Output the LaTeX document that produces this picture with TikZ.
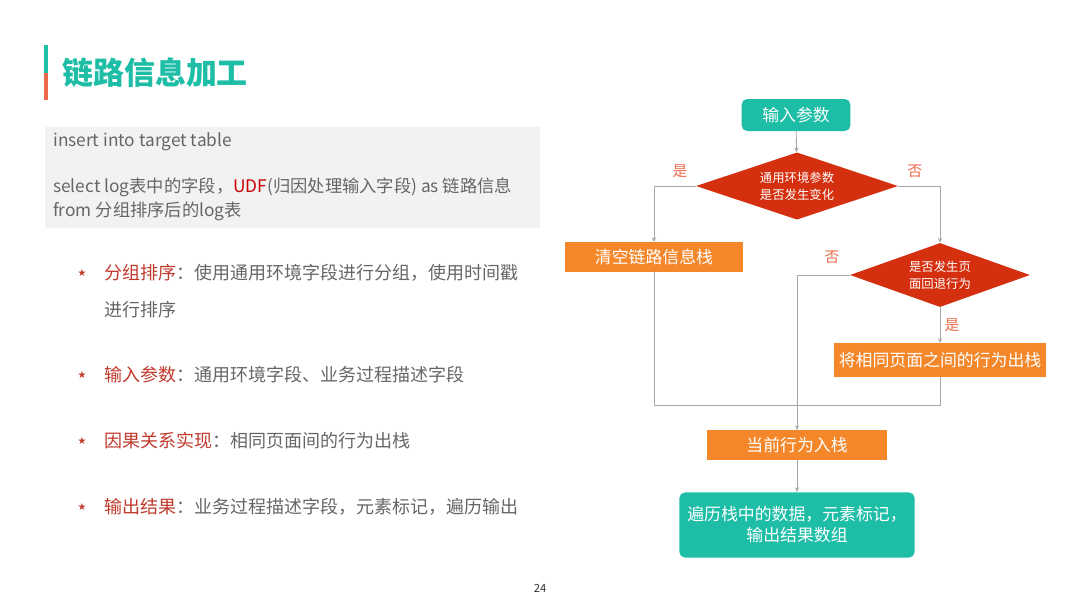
\documentclass[tikz,border=0pt]{standalone}
\usepackage{fontspec}
\setmainfont{Noto Sans CJK SC}
\newfontfamily\djv{DejaVu Sans}
\usetikzlibrary{shapes.geometric,arrows.meta}
\definecolor{teal1}{HTML}{1DBDA6}
\definecolor{orng}{HTML}{F5872B}
\definecolor{dred}{HTML}{D4300F}
\definecolor{txtgray}{HTML}{666666}
\definecolor{lbred}{HTML}{C0392B}
\definecolor{lngray}{HTML}{A8A8A8}
\definecolor{ttlred}{HTML}{EC6A4C}
\tikzset{
  tealbox/.style={draw=none,fill=teal1,rounded corners=4pt,text=white,font=\fontsize{12}{15}\selectfont,align=center,inner sep=0pt},
  orbox/.style={draw=none,fill=orng,text=white,font=\fontsize{12}{14}\selectfont,align=center,inner sep=0pt},
  dia/.style={diamond,draw=none,fill=dred,text=white,font=\fontsize{8.8}{12}\selectfont,align=center,aspect=3,inner sep=0pt},
  conn/.style={draw=lngray,line width=0.6pt},
  arr/.style={conn,-{Stealth[length=3.5pt,width=3pt]}},
  yn/.style={text=ttlred,font=\fontsize{10.5}{12}\selectfont},
  body/.style={text=txtgray,font=\fontsize{12.8}{15}\selectfont,anchor=west,inner sep=0pt},
  code/.style={text=txtgray,font=\fontsize{12.3}{14}\selectfont,anchor=west,inner sep=0pt},
  star/.style={text=lbred,font=\djv\fontsize{7}{8}\selectfont,inner sep=0pt}
}
\begin{document}
\begin{tikzpicture}[x=0.025cm,y=-0.025cm]
\useasboundingbox (0,0) rectangle (1080,608);
% title
\draw[teal1,line width=2.2pt] (46,45) -- (46,73);
\draw[ttlred,line width=2.2pt] (46,73) -- (46,100);
\node[anchor=west,inner sep=0pt,text=teal1,font=\fontsize{22}{26}\selectfont\bfseries] (title) at (62,73) {链路信息加工};
% code box
\fill[black!5] (45,127) rectangle (540,228);
\node[code] (c1) at (53,142) {insert into target table};
\node[code] (c2) at (53,187) {select log表中的字段，\textcolor{red!80!black}{UDF}(归因处理输入字段) as 链路信息};
\node[code] (c3) at (53,211) {from 分组排序后的log表};
% bullets
\node[star] (s1) at (82,273) {★};
\node[body] (b1) at (104,273) {\textcolor{lbred}{分组排序}：使用通用环境字段进行分组，使用时间戳};
\node[body] (b1b) at (104,310) {进行排序};
\node[star] (s2) at (82,375) {★};
\node[body] (b2) at (104,375) {\textcolor{lbred}{输入参数}：通用环境字段、业务过程描述字段};
\node[star] (s3) at (82,441) {★};
\node[body] (b3) at (104,441) {\textcolor{lbred}{因果关系实现}：相同页面间的行为出栈};
\node[star] (s4) at (82,507) {★};
\node[body] (b4) at (104,507) {\textcolor{lbred}{输出结果}：业务过程描述字段，元素标记，遍历输出};
\node[text=black!80,font=\fontsize{8}{10}\selectfont] (pg) at (540,588) {24};
% flowchart
\node[tealbox,minimum width=2.72cm,minimum height=0.8cm] (in) at (796,115) {输入参数};
\node[dia,minimum width=5.05cm,minimum height=1.68cm] (d1) at (797,186) {通用环境参数\\是否发生变化};
\node[orbox,minimum width=4.45cm,minimum height=0.73cm] (clr) at (654,257) {清空链路信息栈};
\node[dia,minimum width=4.5cm,minimum height=1.6cm] (d2) at (940,275) {是否发生页\\面回退行为};
\node[orbox,minimum width=5.28cm,minimum height=0.83cm] (pop) at (940,360) {将相同页面之间的行为出栈};
\node[orbox,minimum width=4.48cm,minimum height=0.73cm] (push) at (797,445) {当前行为入栈};
\node[tealbox,minimum width=5.88cm,minimum height=1.63cm] (trav) at (797,525) {遍历栈中的数据，元素标记，\\输出结果数组};
\coordinate (j1) at (654,405);
\coordinate (j2) at (940,405);
\draw[arr] (in) -- (d1);
\draw[arr] (d1.west) -| (clr.north);
\draw[arr] (d1.east) -| (d2.north);
\draw[arr] (d2.west) -| (push.north);
\draw[arr] (d2.south) -- (pop.north);
\draw[conn] (clr.south) -- (j1) -- (j2) -- (pop.south);
\draw[arr] (push) -- (trav);
\node[yn] (l1) at (680,171) {是};
\node[yn] (l2) at (915,171) {否};
\node[yn] (l3) at (832,257) {否};
\node[yn] (l4) at (952,325) {是};
\end{tikzpicture}
\end{document}
